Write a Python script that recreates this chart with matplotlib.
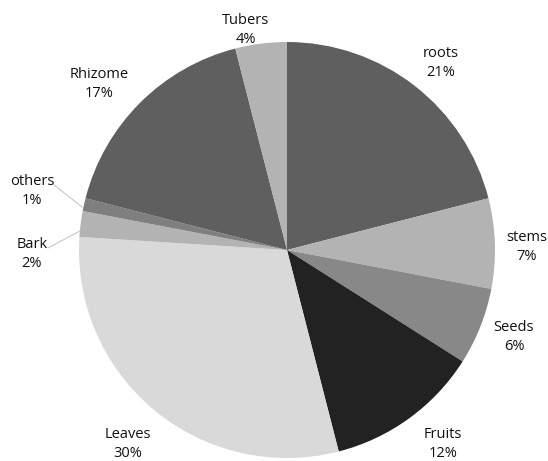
import matplotlib
matplotlib.use("Agg")
import matplotlib.pyplot as plt

categories = ["roots", "stems", "Seeds", "Fruits", "Leaves", "Bark", "others", "Rhizome", "Tubers"]
values = [21, 7, 6, 12, 30, 2, 1, 17, 4]
colors = ["#5f5f5f", "#b3b3b3", "#888888", "#222222", "#d9d9d9", "#b3b3b3", "#7f7f7f", "#5f5f5f", "#b3b3b3"]

W, H = 548, 461
fig = plt.figure(figsize=(W / 100, H / 100), dpi=100)
ax = fig.add_axes([0, 0, 1, 1])

cx, cy, r = 287, H - 250, 208
ax.pie(values, colors=colors, startangle=90, counterclock=False,
       center=(cx, cy), radius=r, frame=True,
       wedgeprops=dict(linewidth=0))
ax.set_xlim(0, W)
ax.set_ylim(0, H)
ax.set_aspect("equal")
ax.axis("off")

# label layout (pixel coords of text centre)
label_pos = [(441, 63), (527, 247), (514, 337), (443, 444), (128, 444),
             (32, 254), (32, 191), (99, 84), (246, 30)]
for name, v, (px, py) in zip(categories, values, label_pos):
    ax.text(px, H - py, f"{name}\n{v}%", ha="center", va="center",
            fontsize=10.5, family="Open Sans", linespacing=1.45, color="#111111")

# leader lines
ax.plot([53, 82], [H - 184, H - 207], color="#c8c8c8", lw=0.8)
ax.plot([48, 80], [H - 248, H - 231], color="#c8c8c8", lw=0.8)

fig.savefig("out.png", dpi=100)
